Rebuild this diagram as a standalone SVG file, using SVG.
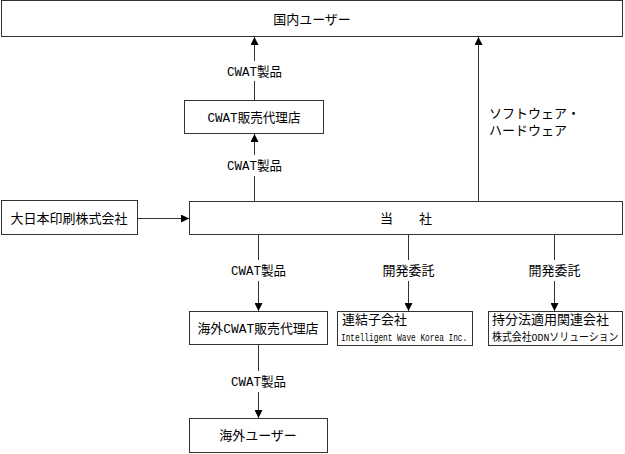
<svg xmlns="http://www.w3.org/2000/svg" width="625" height="454" viewBox="0 0 625 454">
<defs>
<style>
.box{fill:#fff;stroke:#333;stroke-width:1}
.ln{stroke:#333;stroke-width:1;fill:none}
.t{font-family:"Liberation Mono","Noto Sans CJK JP",sans-serif;font-size:13px;fill:#000}
.s10{font-size:10px}
.s11{font-size:11px}
.c{text-anchor:middle}
.ah{fill:#000}
</style>
<marker id="arr" markerWidth="8" markerHeight="8" refX="8" refY="4" orient="auto" markerUnits="userSpaceOnUse">
<path d="M0,0 L8,4 L0,8 Z" class="ah"/>
</marker>
</defs>
<rect width="625" height="454" fill="#fff"/>

<g id="connectors">
<line class="ln" x1="254.5" y1="100" x2="254.5" y2="81"/>
<line class="ln" x1="254.5" y1="61" x2="254.5" y2="37" marker-end="url(#arr)"/>
<line class="ln" x1="478.5" y1="201" x2="478.5" y2="37" marker-end="url(#arr)"/>
<line class="ln" x1="254.5" y1="201" x2="254.5" y2="176"/>
<line class="ln" x1="254.5" y1="155" x2="254.5" y2="134" marker-end="url(#arr)"/>
<line class="ln" x1="137" y1="218.5" x2="189" y2="218.5" marker-end="url(#arr)"/>
<line class="ln" x1="258.5" y1="234" x2="258.5" y2="260"/>
<line class="ln" x1="258.5" y1="281" x2="258.5" y2="311" marker-end="url(#arr)"/>
<line class="ln" x1="408.5" y1="234" x2="408.5" y2="260"/>
<line class="ln" x1="408.5" y1="281" x2="408.5" y2="311" marker-end="url(#arr)"/>
<line class="ln" x1="554.5" y1="234" x2="554.5" y2="260"/>
<line class="ln" x1="554.5" y1="281" x2="554.5" y2="311" marker-end="url(#arr)"/>
<line class="ln" x1="258.5" y1="345" x2="258.5" y2="371"/>
<line class="ln" x1="258.5" y1="392" x2="258.5" y2="418" marker-end="url(#arr)"/>
<text class="t c" x="254.5" y="76" textLength="55" lengthAdjust="spacingAndGlyphs">CWAT製品</text>
<text class="t c" x="254.5" y="170" textLength="55" lengthAdjust="spacingAndGlyphs">CWAT製品</text>
<text class="t c" x="258.5" y="275" textLength="55" lengthAdjust="spacingAndGlyphs">CWAT製品</text>
<text class="t c" x="408.5" y="275">開発委託</text>
<text class="t c" x="554.5" y="275">開発委託</text>
<text class="t c" x="258.5" y="386" textLength="55" lengthAdjust="spacingAndGlyphs">CWAT製品</text>
<text class="t" x="489" y="118">ソフトウェア・</text>
<text class="t" x="489" y="135">ハードウェア</text>
</g>

<g id="domestic-users">
<rect class="box" x="1.5" y="0.5" width="621" height="36"/>
<text class="t c" x="312" y="24">国内ユーザー</text>
</g>

<g id="cwat-agent">
<rect class="box" x="184.5" y="100.5" width="139" height="33"/>
<text class="t c" x="254" y="122" textLength="93" lengthAdjust="spacingAndGlyphs">CWAT販売代理店</text>
</g>

<g id="dnp">
<rect class="box" x="1.5" y="200.5" width="136" height="34"/>
<text class="t c" x="69" y="223">大日本印刷株式会社</text>
</g>

<g id="company">
<rect class="box" x="189.5" y="201.5" width="433" height="33"/>
<text class="t c" x="406" y="223" xml:space="preserve">当　　社</text>
</g>

<g id="overseas-agent">
<rect class="box" x="189.5" y="311.5" width="138" height="33"/>
<text class="t c" x="258" y="333" textLength="121" lengthAdjust="spacingAndGlyphs">海外CWAT販売代理店</text>
</g>

<g id="subsidiary">
<rect class="box" x="337.5" y="311.5" width="135" height="34"/>
<text class="t" x="342" y="324">連結子会社</text>
<text class="t s10" transform="translate(341,341) scale(0.78,1)">Intelligent Wave Korea Inc.</text>
</g>

<g id="affiliate">
<rect class="box" x="488.5" y="311.5" width="134" height="34"/>
<text class="t" x="492" y="324">持分法適用関連会社</text>
<text class="t s11" transform="translate(492,341) scale(0.9,1)">株式会社ODNソリューション</text>
</g>

<g id="overseas-users">
<rect class="box" x="189.5" y="418.5" width="138" height="34"/>
<text class="t c" x="258" y="440">海外ユーザー</text>
</g>
</svg>
